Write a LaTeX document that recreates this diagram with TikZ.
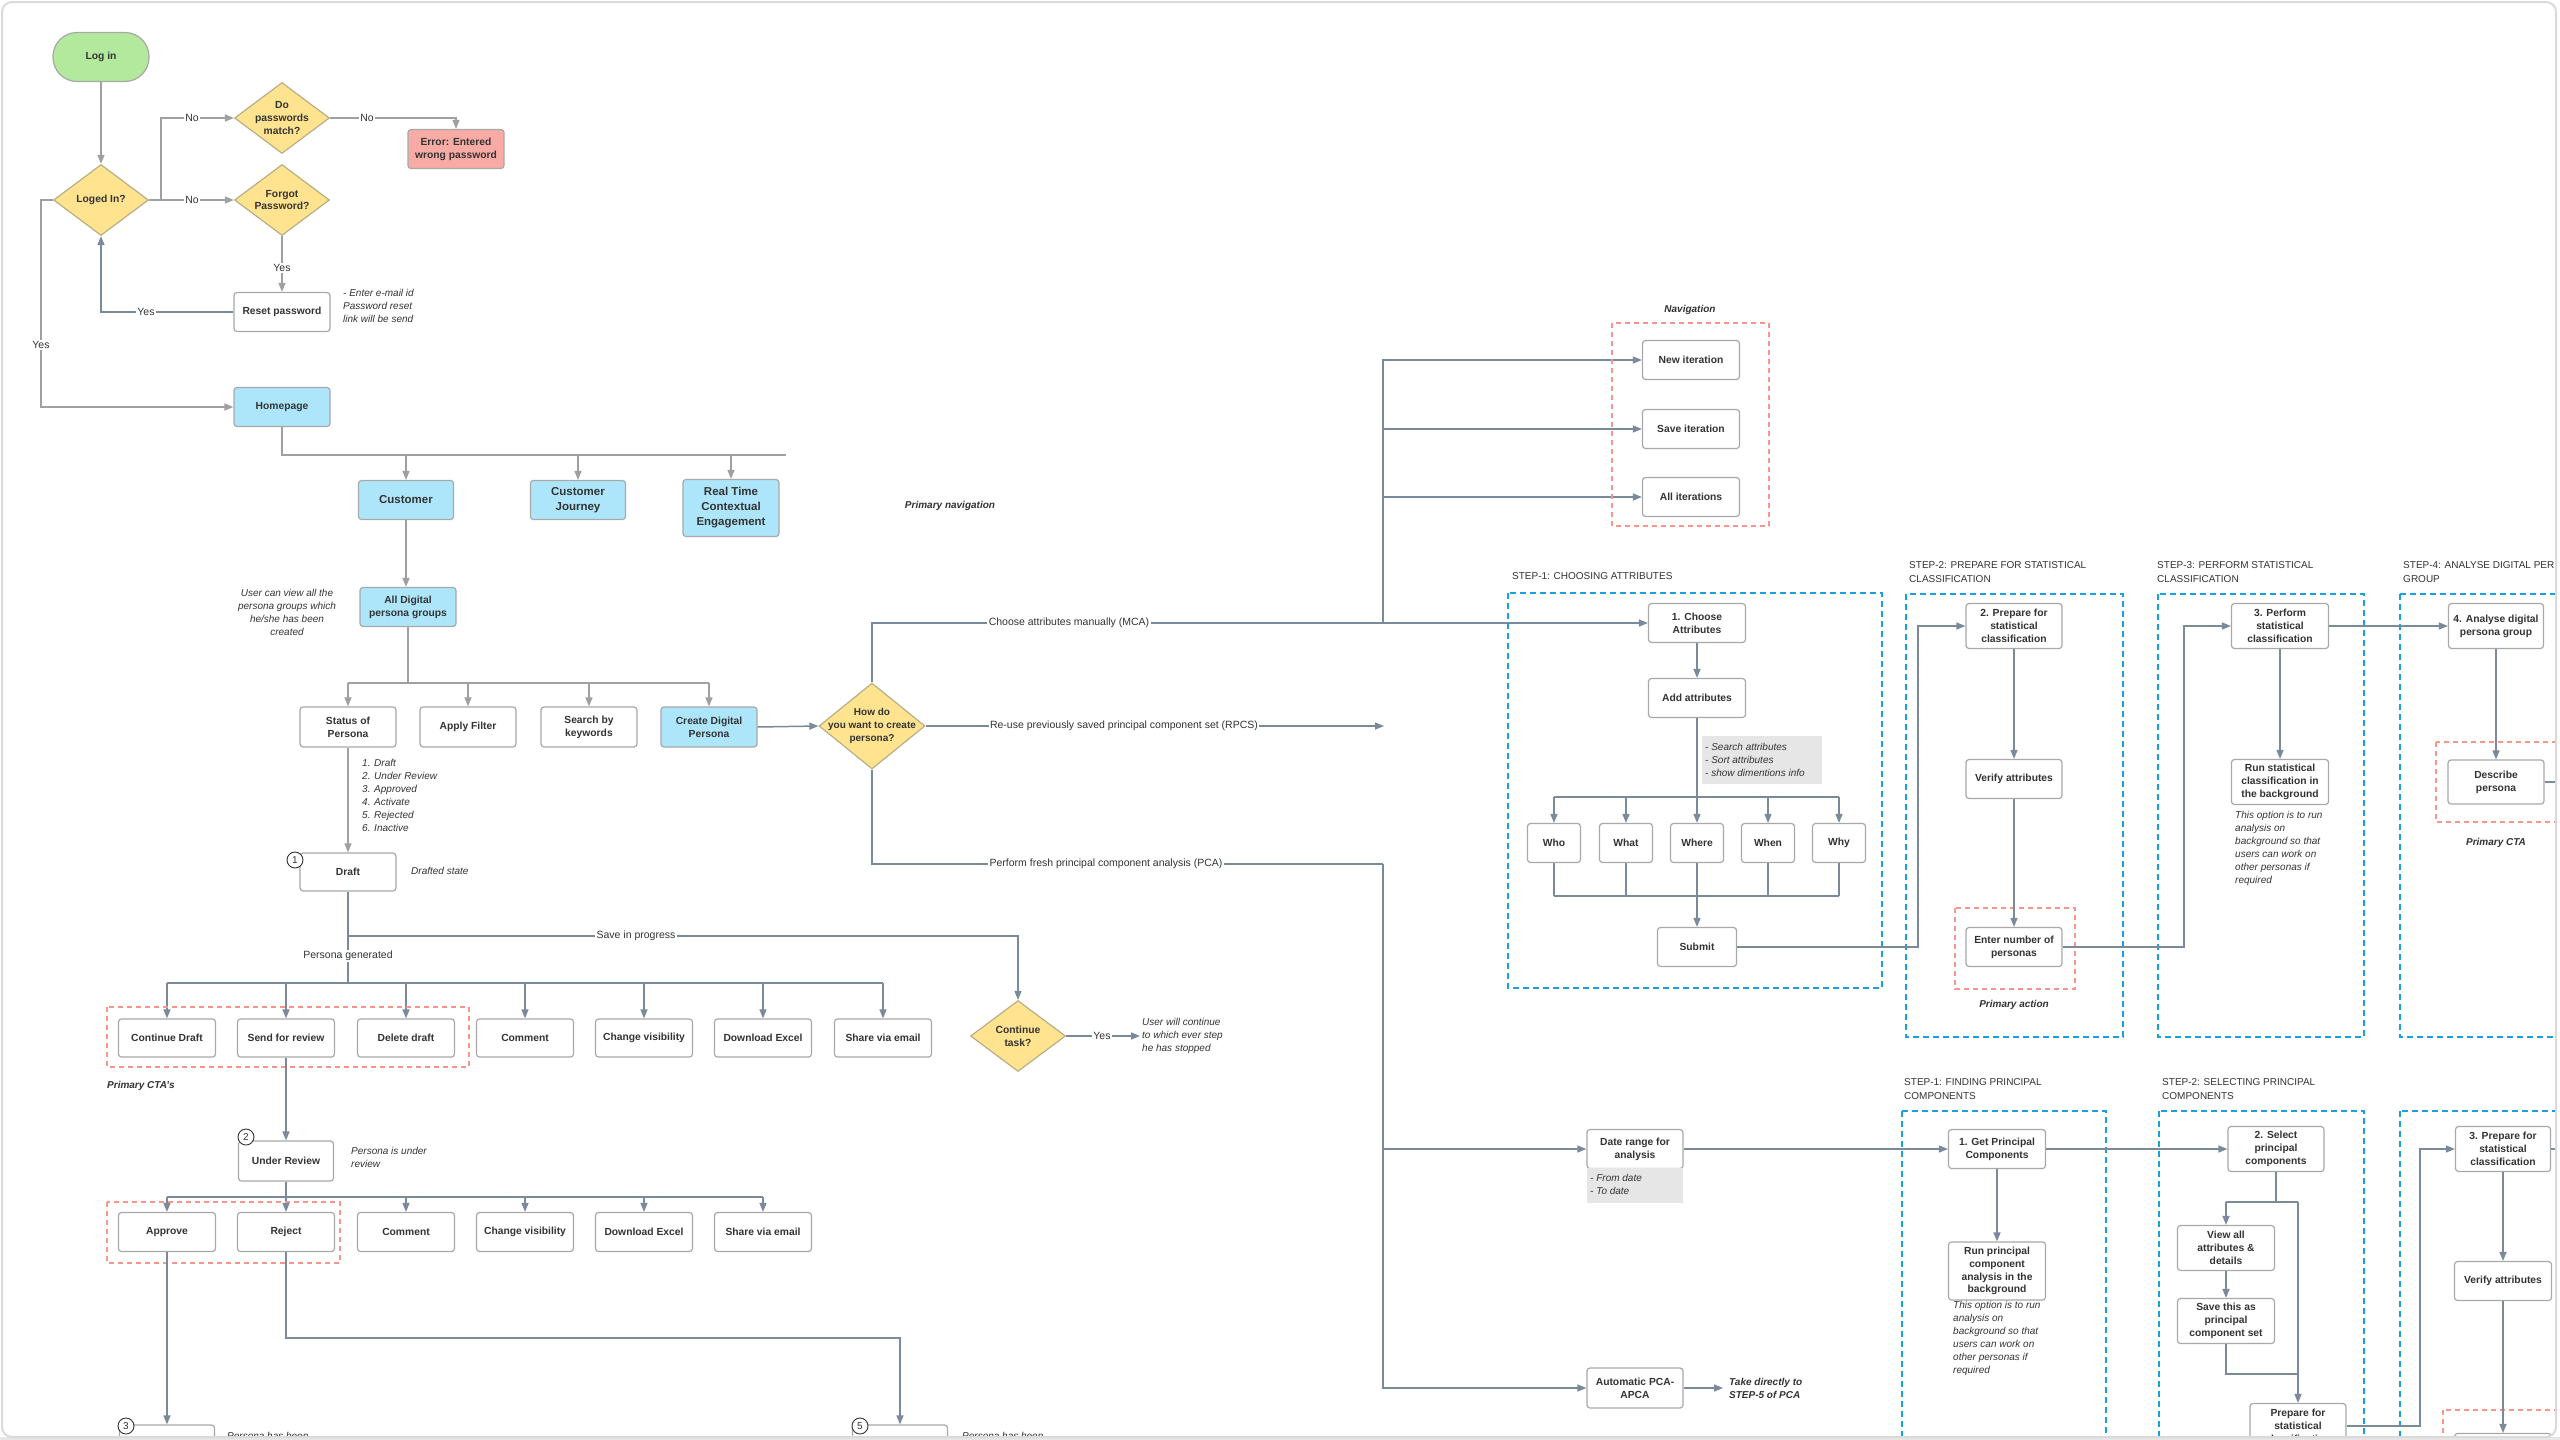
\documentclass[tikz,border=0pt]{standalone}
\usepackage{fontspec}
\setmainfont{Liberation Sans}
\usetikzlibrary{arrows.meta,shapes.geometric}
\definecolor{txt}{HTML}{333333}
\definecolor{bgray}{HTML}{A8A8A8}
\definecolor{lgray}{HTML}{A0A0A0}
\definecolor{slate}{HTML}{7A8A9A}
\definecolor{lblue}{HTML}{ADE6FA}
\definecolor{lgreen}{HTML}{B3E99C}
\definecolor{lred}{HTML}{F8ABA5}
\definecolor{dyel}{HTML}{FFE38E}
\definecolor{diagray}{HTML}{B8AE88}
\definecolor{dashred}{HTML}{F7968F}
\definecolor{dashblue}{HTML}{1A9FE0}
\definecolor{notegray}{HTML}{E6E6E6}
\definecolor{cardborder}{HTML}{DADADA}
\begin{document}
\begin{tikzpicture}[x=1pt,y=-1pt,
  boxbase/.style={draw=bgray, line width=1.2pt, rounded corners=3pt, fill=white, align=center, text=txt,
    font=\fontsize{10.3}{12.8}\selectfont\bfseries, inner sep=1pt},
  bx/.style={boxbase, minimum width=96pt, minimum height=39pt},
  bxt/.style={boxbase, minimum width=96pt, minimum height=45pt},
  bluebox/.style={bx, fill=lblue},
  navbox/.style={bx, fill=lblue, font=\fontsize{11.5}{15}\selectfont\bfseries},
  errbox/.style={bx, fill=lred},
  startbox/.style={boxbase, fill=lgreen, rounded corners=24pt, minimum width=96pt, minimum height=49pt},
  sbx/.style={boxbase, minimum width=53pt, minimum height=39pt},
  dia/.style={diamond, draw=diagray, fill=dyel, line width=1.2pt, minimum width=95pt, minimum height=71pt, inner sep=0pt},
  dt/.style={align=center, text=txt, font=\fontsize{10.3}{12.8}\selectfont\bfseries, inner sep=0pt},
  lbl/.style={fill=white, inner sep=1.5pt, text=txt, font=\fontsize{10.5}{12}\selectfont},
  note/.style={font=\fontsize{10}{13}\selectfont\itshape, text=txt, align=left, inner sep=0pt},
  bnote/.style={font=\fontsize{10}{13}\selectfont\bfseries\itshape, text=txt, align=left, inner sep=0pt},
  steplbl/.style={font=\fontsize{10}{14}\selectfont, text=txt, align=left, anchor=north west, inner sep=0pt},
  numc/.style={circle, draw=txt, fill=white, line width=0.9pt, minimum size=16pt, inner sep=0pt, text=txt, font=\fontsize{10}{10}\selectfont},
  gline/.style={draw=lgray, line width=1.4pt},
  garr/.style={gline, -{Triangle[length=9pt,width=7pt]}},
  sline/.style={draw=slate, line width=1.5pt},
  sarr/.style={sline, -{Triangle[length=9pt,width=7pt]}},
  reddash/.style={draw=dashred, line width=1.5pt, dash pattern=on 5pt off 4pt},
  bluedash/.style={draw=dashblue, line width=1.8pt, dash pattern=on 6pt off 4pt},
  notebg/.style={fill=notegray, draw=none}
]
\useasboundingbox (0,0) rectangle (2560,1440);
\fill[white] (0,0) rectangle (2560,1440);
\fill[notegray] (0,1437) rectangle (2560,1440);
\begin{scope}
\clip[rounded corners=10pt] (2,2) rectangle (2556,1437);

% ---------- login part ----------
\node[startbox] (login) at (101,57) {Log in};
\node[dia] (loged) at (101,200) {}; \node[dt] at (loged) {Loged In?};
\node[dia] (pwm) at (282,118) {}; \node[dt] at (pwm) {Do\\passwords\\match?};
\node[dia] (fgt) at (282,200) {}; \node[dt] at (fgt) {Forgot\\Password?};
\node[errbox] (err) at (456,149) {Error: Entered\\wrong password};
\node[bx] (reset) at (282,312) {Reset password};
\node[bluebox] (home) at (282,407) {Homepage};

\draw[garr] (login) -- (loged);
\coordinate (lj) at (161,200);
\draw[gline] (loged.east) -- (lj);
\draw[garr] (lj) |- (pwm.west);
\draw[garr] (lj) -- (fgt.west);
\node[lbl] at (192,118) {No};
\node[lbl] at (192,200) {No};
\draw[garr] (pwm.east) -| (err.north);
\node[lbl] at (367,118) {No};
\draw[garr] (fgt) -- (reset);
\node[lbl] at (282,268) {Yes};
\draw[sarr] (reset.west) -| (loged.south);
\node[lbl] at (146,312) {Yes};
\coordinate (lw) at (41,200);
\draw[garr] (loged.west) -- (lw) |- (home.west);
\node[lbl] at (41,345) {Yes};
\node[note, anchor=north west] at (343,289) {- Enter e-mail id\\Password reset\\link will be send};

% ---------- primary navigation ----------
\coordinate (hb) at (282,455);
\coordinate (hbe) at (786,455);
\draw[gline] (home.south) -- (hb) -- (hbe);
\node[navbox, minimum width=95pt] (cust) at (406,500) {Customer};
\node[navbox, minimum width=95pt] (cj) at (578,500) {Customer\\Journey};
\node[navbox, minimum height=57pt] (rt) at (731,508) {Real Time\\Contextual\\Engagement};
\draw[garr] (hb -| cust) -- (cust.north);
\draw[garr] (hb -| cj) -- (cj.north);
\draw[garr] (hb -| rt) -- (rt.north);
\node[bnote] (pnav) at (950,506) {Primary navigation};

\node[bluebox] (alld) at (408,607) {All Digital\\persona groups};
\draw[garr] (cust.south) -- (cust.south |- alld.north);
\node[note, align=center] (alldn) at (287,612) {User can view all the\\persona groups which\\he/she has been\\created};

\node[bx, minimum height=40pt] (status) at (348,727) {Status of\\Persona};
\node[bx, minimum height=40pt] (filter) at (468,727) {Apply Filter};
\node[bx, minimum height=40pt] (search) at (589,727) {Search by\\keywords};
\node[bluebox, minimum height=40pt] (create) at (709,727) {Create Digital\\Persona};
\coordinate (aj) at (408,683);
\draw[gline] (alld.south) -- (aj);
\draw[gline] (aj -| status) -- (aj -| create);
\draw[garr] (aj -| status) -- (status.north);
\draw[garr] (aj -| filter) -- (filter.north);
\draw[garr] (aj -| search) -- (search.north);
\draw[garr] (aj -| create) -- (create.north);

\node[bx, minimum height=38pt] (draft) at (348,872) {Draft};
\draw[garr] (status) -- (draft);
\node[note, anchor=north west] (statn) at (362,759) {1. Draft\\2. Under Review\\3. Approved\\4. Activate\\5. Rejected\\6. Inactive};
\node[numc] (c1) at (295,860) {1};
\node[note, anchor=west] (drn) at (411,871) {Drafted state};

% ---------- draft row ----------
\node[dia] (cont) at (1018,1036) {}; \node[dt] at (cont) {Continue\\task?};
\coordinate (dj) at (348,983);
\coordinate (sj) at (348,936);
\draw[sline] (draft.south) -- (dj);
\draw[sarr] (sj) -| (cont.north);
\node[lbl] at (636,936) {Save in progress};
\node[lbl] at (348,956) {Persona generated};
\coordinate (contj) at (1140,1036);
\draw[sarr] (cont.east) -- (contj);
\node[lbl] at (1102,1036) {Yes};
\node[note, anchor=west] at (1142,1036) {User will continue\\to which ever step\\he has stopped};

\node[bx, minimum width=97pt, minimum height=38pt] (cd) at (167,1038) {Continue Draft};
\node[bx, minimum width=97pt, minimum height=38pt] (sfr) at (286,1038) {Send for review};
\node[bx, minimum width=97pt, minimum height=38pt] (dd) at (406,1038) {Delete draft};
\node[bx, minimum width=97pt, minimum height=38pt] (cm1) at (525,1038) {Comment};
\node[bx, minimum width=97pt, minimum height=38pt] (cv1) at (644,1038) {Change visibility};
\node[bx, minimum width=97pt, minimum height=38pt] (de1) at (763,1038) {Download Excel};
\node[bx, minimum width=97pt, minimum height=38pt] (se1) at (883,1038) {Share via email};
\draw[sline] (dj -| cd) -- (dj -| se1);
\foreach \n in {cd,sfr,dd,cm1,cv1,de1,se1} { \draw[sarr] (dj -| \n) -- (\n.north); }
\draw[reddash] (107,1007) rectangle (469,1067);
\node[bnote, anchor=west] at (107,1086) {Primary CTA's};

\node[bx, minimum width=95pt, minimum height=40pt] (ur) at (286,1161) {Under Review};
\draw[sarr] (sfr) -- (ur);
\node[numc] (c2) at (246,1137) {2};
\node[note, anchor=north west] at (351,1147) {Persona is under\\review};

\node[bx, minimum width=97pt] (ap) at (167,1232) {Approve};
\node[bx, minimum width=97pt] (rj) at (286,1232) {Reject};
\node[bx, minimum width=97pt] (cm2) at (406,1232) {Comment};
\node[bx, minimum width=97pt] (cv2) at (525,1232) {Change visibility};
\node[bx, minimum width=97pt] (de2) at (644,1232) {Download Excel};
\node[bx, minimum width=97pt] (se2) at (763,1232) {Share via email};
\coordinate (uj) at (286,1197);
\draw[sline] (ur.south) -- (uj);
\draw[sline] (uj -| ap) -- (uj -| se2);
\foreach \n in {ap,rj,cm2,cv2,de2,se2} { \draw[sarr] (uj -| \n) -- (\n.north); }
\draw[reddash] (107,1202) rectangle (340,1263);

\node[bx, minimum width=95pt, minimum height=34pt] (apd) at (167,1442) {Approved};
\node[bx, minimum width=95pt, minimum height=34pt] (rjd) at (900,1442) {Rejected};
\draw[sarr] (ap) -- (apd);
\coordinate (rjj) at (286,1338);
\draw[sarr] (rj.south) -- (rjj) -| (rjd.north);
\node[numc] (c3) at (126,1426) {3};
\node[numc] (c5) at (860,1426) {5};
\node[note, anchor=west] at (227,1436) {Persona has been};
\node[note, anchor=west] at (962,1436) {Persona has been};

% ---------- how do you want ----------
\node[dia, minimum width=106pt, minimum height=86pt] (how) at (872,726) {};
\node[dt, font=\fontsize{10}{12.8}\selectfont\bfseries] at (how) {How do\\you want to create\\persona?};
\draw[sarr] (create.east) -- (how.west);

\node[bx, minimum width=97pt] (choose) at (1697,623) {1. Choose\\Attributes};
\draw[sarr] (how.north) |- (choose.west);
\node[lbl] at (1069,623) {Choose attributes manually (MCA)};

\coordinate (rpcsend) at (1384,726);
\draw[sarr] (how.east) -- (rpcsend);
\node[lbl] at (1124,726) {Re-use previously saved principal component set (RPCS)};

% navigation
\node[bx, minimum width=97pt] (newit) at (1691,360) {New iteration};
\node[bx, minimum width=97pt] (saveit) at (1691,429) {Save iteration};
\node[bx, minimum width=97pt] (allit) at (1691,497) {All iterations};
\coordinate (nj) at (1383,623);
\draw[sarr] (nj) |- (newit.west);
\draw[sarr] (nj) |- (saveit.west);
\draw[sarr] (nj) |- (allit.west);
\draw[reddash] (1612,323) rectangle (1769,526);
\node[bnote] at (1690,310) {Navigation};

% PCA branch
\node[bx] (date) at (1635,1149) {Date range for\\analysis};
\node[bx, minimum height=40pt] (auto) at (1635,1388) {Automatic PCA-\\APCA};
\coordinate (pj) at (1383,864);
\draw[sline] (how.south) |- (pj);
\draw[sarr] (pj) |- (date.west);
\draw[sarr] (pj) |- (auto.west);
\node[lbl] at (1106,864) {Perform fresh principal component analysis (PCA)};
\fill[notebg] (1587,1168) rectangle (1683,1203);
\node[note, anchor=west] at (1590,1184) {- From date\\- To date};
\coordinate (autoj) at (1723,1388);
\draw[sarr] (auto.east) -- (autoj);
\node[bnote, anchor=west] at (1729,1388) {Take directly to\\STEP-5 of PCA};

% ---------- STEP-1 choosing attributes ----------
\node[steplbl, anchor=west] at (1512,576) {STEP-1: CHOOSING ATTRIBUTES};
\draw[bluedash] (1508,593) rectangle (1882,988);
\node[bx, minimum width=97pt] (addattr) at (1697,698) {Add attributes};
\draw[sarr] (choose) -- (addattr);
\fill[notebg] (1702,736) rectangle (1822,784);
\node[note, anchor=west] at (1705,760) {- Search attributes\\- Sort attributes\\- show dimentions info};
\node[sbx] (who) at (1554,843) {Who};
\node[sbx] (what) at (1626,843) {What};
\node[sbx] (where) at (1697,843) {Where};
\node[sbx] (when) at (1768,843) {When};
\node[sbx] (why) at (1839,843) {Why};
\coordinate (wj) at (1697,797);
\draw[sline] (addattr.south) -- (wj);
\draw[sline] (wj -| who) -- (wj -| why);
\foreach \n in {who,what,where,when,why} { \draw[sarr] (wj -| \n) -- (\n.north); }
\coordinate (bj) at (1697,896);
\foreach \n in {who,what,when,why} { \draw[sline] (\n.south) -- (bj -| \n); }
\draw[sline] (bj -| who) -- (bj -| why);
\node[bx, minimum width=79pt] (submit) at (1697,947) {Submit};
\draw[sarr] (where.south) -- (submit.north);

% ---------- STEP-2 ----------
\node[steplbl] at (1909,561) {STEP-2: PREPARE FOR STATISTICAL\\CLASSIFICATION};
\draw[bluedash] (1906,594) rectangle (2123,1037);
\node[bxt] (prep2) at (2014,626) {2. Prepare for\\statistical\\classification};
\node[bx] (verify2) at (2014,779) {Verify attributes};
\node[bx] (enter2) at (2014,947) {Enter number of\\personas};
\draw[reddash] (1955,908) rectangle (2075,989);
\node[bnote] at (2014,1005) {Primary action};
\coordinate (s2j) at (1918,947);
\draw[sarr] (submit.east) -- (s2j) |- (prep2.west);
\draw[sarr] (prep2) -- (verify2);
\draw[sarr] (verify2) -- (enter2);

% ---------- STEP-3 ----------
\node[steplbl] at (2157,561) {STEP-3: PERFORM STATISTICAL\\CLASSIFICATION};
\draw[bluedash] (2158,594) rectangle (2364,1037);
\node[bxt, minimum width=97pt] (perf3) at (2280,626) {3. Perform\\statistical\\classification};
\node[bxt, minimum width=97pt] (run3) at (2280,782) {Run statistical\\classification in\\the background};
\node[note, anchor=north west] at (2235,811) {This option is to run\\analysis on\\background so that\\users can work on\\other personas if\\required};
\coordinate (s3j) at (2184,947);
\draw[sarr] (enter2.east) -- (s3j) |- (perf3.west);
\draw[sarr] (perf3) -- (run3);

% ---------- STEP-4 ----------
\node[steplbl] at (2403,561) {STEP-4: ANALYSE DIGITAL PERSONA\\GROUP};
\draw[bluedash] (2400,594) rectangle (2620,1037);
\node[bxt, minimum width=95pt] (an4) at (2496,626) {4. Analyse digital\\persona group};
\node[bx, minimum height=44pt] (desc) at (2496,782) {Describe\\persona};
\draw[reddash] (2436,742) rectangle (2556,822);
\node[bnote] at (2496,843) {Primary CTA};
\draw[sarr] (perf3.east) -- (an4.west);
\draw[sarr] (an4) -- (desc);
\coordinate (descj) at (2580,782);
\draw[sline] (desc.east) -- (descj);

% ---------- PCA STEP-1 ----------
\node[steplbl] at (1904,1078) {STEP-1: FINDING PRINCIPAL\\COMPONENTS};
\draw[bluedash] (1902,1111) rectangle (2106,1470);
\node[bx, minimum width=97pt] (getpc) at (1997,1149) {1. Get Principal\\Components};
\node[bx, minimum width=97pt, minimum height=58pt] (runpc) at (1997,1271) {Run principal\\component\\analysis in the\\background};
\node[note, anchor=north west] at (1953,1301) {This option is to run\\analysis on\\background so that\\users can work on\\other personas if\\required};
\draw[sarr] (date.east) -- (getpc.west);
\draw[sarr] (getpc) -- (runpc);

% ---------- PCA STEP-2 ----------
\node[steplbl] at (2162,1078) {STEP-2: SELECTING PRINCIPAL\\COMPONENTS};
\draw[bluedash] (2159,1111) rectangle (2364,1470);
\node[bxt] (selpc) at (2276,1149) {2. Select\\principal\\components};
\node[bxt, minimum width=97pt] (viewall) at (2226,1248) {View all\\attributes \&\\details};
\node[bxt, minimum width=97pt] (saveset) at (2226,1321) {Save this as\\principal\\component set};
\node[bxt] (prepst) at (2298,1426) {Prepare for\\statistical\\classification};
\draw[sarr] (getpc.east) -- (selpc.west);
\coordinate (spj) at (2276,1202);
\coordinate (spr) at (2298,1202);
\draw[sline] (selpc.south) -- (spj);
\draw[sline] (viewall |- spj) -- (spr);
\draw[sarr] (viewall |- spj) -- (viewall.north);
\draw[sarr] (spr) -- (prepst.north);
\draw[sarr] (viewall) -- (saveset);
\coordinate (ssj) at (2298,1374);
\draw[sline] (saveset.south) |- (ssj);

% ---------- PCA STEP-3 ----------
\draw[bluedash] (2400,1111) rectangle (2620,1470);
\node[bxt, minimum width=95pt] (prep3b) at (2503,1149) {3. Prepare for\\statistical\\classification};
\node[bx, minimum width=97pt] (verify3b) at (2503,1281) {Verify attributes};
\node[bx, minimum width=97pt] (enter3b) at (2503,1453) {Enter number of\\personas};
\draw[reddash] (2443,1410) rectangle (2620,1480);
\coordinate (p3j) at (2420,1426);
\draw[sarr] (prepst.east) -- (p3j) |- (prep3b.west);
\draw[sarr] (prep3b) -- (verify3b);
\draw[sarr] (verify3b) -- (enter3b);
\coordinate (p3e) at (2580,1149);
\draw[sline] (prep3b.east) -- (p3e);
\end{scope}
\draw[cardborder, line width=2pt, rounded corners=10pt] (2,2) rectangle (2556,1437);
\end{tikzpicture}
\end{document}
